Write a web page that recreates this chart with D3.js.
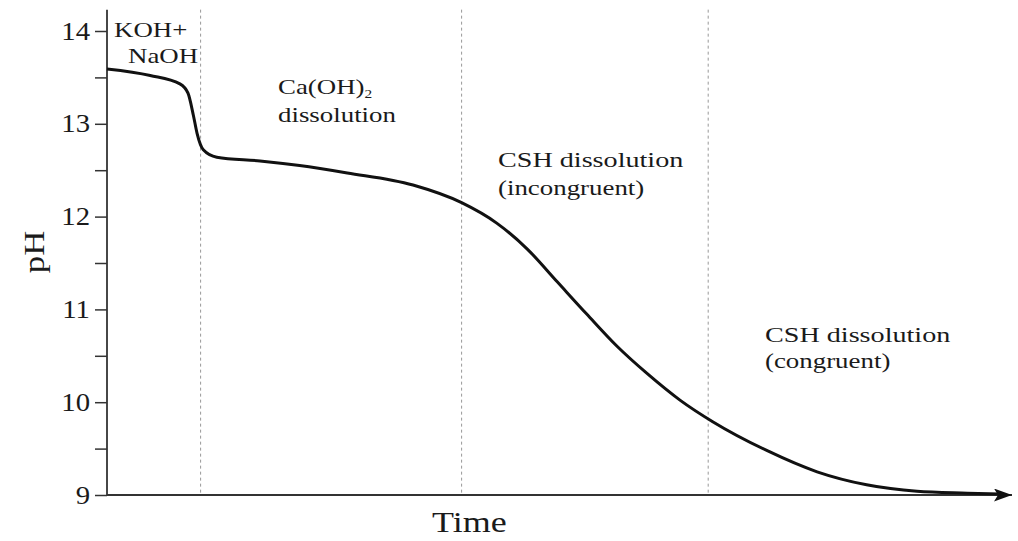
<!DOCTYPE html>
<html>
<head>
<meta charset="utf-8">
<script src="https://cdn.jsdelivr.net/npm/d3@7"></script>
<style>
  body { margin: 0; background: #fff; }
  text { font-family: "Liberation Serif", "DejaVu Serif", serif; fill: #1a1a1a; }
</style>
</head>
<body>
<div class="chart"></div>
<script>
// curve (time in arbitrary units 0-100)
var timeVals = [0, 4.8, 8.1, 9.0, 9.6, 10.0, 10.7, 12.2, 17, 21.4, 26.7, 34, 39.4, 43.3, 46.7, 50, 53.3, 56.7, 60, 63.7, 67.3, 73.3, 78.9, 84.4, 90, 95.6, 99.2];
var phVals = [13.59, 13.52, 13.43, 13.33, 13.09, 12.90, 12.72, 12.64, 12.60, 12.55, 12.47, 12.34, 12.15, 11.93, 11.65, 11.30, 10.95, 10.60, 10.31, 10.02, 9.79, 9.48, 9.25, 9.11, 9.04, 9.02, 9.01];

var yTicks = [9, 9.5, 10, 10.5, 11, 11.5, 12, 12.5, 13, 13.5, 14];
var stageBounds = [10.4, 39.4, 66.8];

var svgWidth = 1018;
var svgHeight = 541;
var stretch = 1.28; // text in the source is widened

var svg = d3.select(".chart")
  .append("svg")
  .attr("width", svgWidth)
  .attr("height", svgHeight);

var xScale = d3.scaleLinear().domain([0, 100]).range([107, 1007]);
var yScale = d3.scaleLinear().domain([9, 14]).range([495, 31]);

var data = timeVals.map(function(t, i) { return { t: t, ph: phVals[i] }; });

// arrow head for the time axis
svg.append("defs").append("marker")
  .attr("id", "arrow")
  .attr("viewBox", "0 0 18 13")
  .attr("refX", 18)
  .attr("refY", 6.5)
  .attr("markerWidth", 18)
  .attr("markerHeight", 13)
  .attr("markerUnits", "userSpaceOnUse")
  .attr("orient", "auto")
  .append("path")
  .attr("d", "M0,0 L18,6.5 L0,13 L4,6.5 Z")
  .attr("fill", "#111");

// stage boundaries
svg.selectAll(".bound")
  .data(stageBounds)
  .enter()
  .append("line")
  .attr("class", "bound")
  .attr("x1", d => xScale(d))
  .attr("x2", d => xScale(d))
  .attr("y1", yScale(14.23))
  .attr("y2", yScale(9))
  .attr("stroke", "#999")
  .attr("stroke-width", 1)
  .attr("stroke-dasharray", "3,3");

// y axis
var leftAxis = d3.axisLeft(yScale)
  .tickValues(yTicks)
  .tickSize(12)
  .tickSizeOuter(0)
  .tickFormat(d => Number.isInteger(d) ? d : "");

var yAxisG = svg.append("g")
  .attr("transform", "translate(107,0)")
  .call(leftAxis);
yAxisG.select(".domain").remove();
yAxisG.selectAll(".tick line").attr("stroke", "#333").attr("stroke-width", 1.5);
yAxisG.selectAll(".tick text")
  .attr("x", null)
  .attr("dy", null)
  .attr("font-size", 25)
  .attr("fill", "#1a1a1a")
  .attr("text-anchor", "end")
  .attr("transform", "translate(-17,8) scale(1.15,1)");

svg.append("line")
  .attr("x1", 107).attr("x2", 107)
  .attr("y1", yScale(14.23)).attr("y2", yScale(9))
  .attr("stroke", "#333")
  .attr("stroke-width", 1.8);

// x axis with arrow
svg.append("line")
  .attr("x1", 107)
  .attr("x2", 1012)
  .attr("y1", yScale(9))
  .attr("y2", yScale(9))
  .attr("stroke", "#333")
  .attr("stroke-width", 1.8)
  .attr("marker-end", "url(#arrow)");

// pH curve
var line = d3.line()
  .x(d => xScale(d.t))
  .y(d => yScale(d.ph))
  .curve(d3.curveMonotoneX);

svg.append("path")
  .datum(data)
  .attr("d", line)
  .attr("fill", "none")
  .attr("stroke", "#111")
  .attr("stroke-width", 3);

// labels
function label(x, y, size, txt) {
  return svg.append("text")
    .attr("transform", "translate(" + x + "," + y + ") scale(" + stretch + ",1)")
    .attr("font-size", size)
    .text(txt);
}

label(114, 37, 21, "KOH+");
label(128, 63, 21, "NaOH");

var ca = label(278, 94, 21, "Ca(OH)");
ca.append("tspan").attr("font-size", 12).attr("dy", 4).text("2");
label(278, 122, 21, "dissolution");

label(498, 167, 22, "CSH dissolution");
label(498, 195, 21, "(incongruent)");

label(765, 342, 22, "CSH dissolution");
label(765, 368, 21, "(congruent)");

svg.append("text")
  .attr("transform", "translate(432,532) scale(1.2,1)")
  .attr("font-size", 30)
  .text("Time");

svg.append("text")
  .attr("transform", "translate(44,252) rotate(-90) scale(1.2,1)")
  .attr("text-anchor", "middle")
  .attr("font-size", 29)
  .text("pH");
</script>
</body>
</html>
